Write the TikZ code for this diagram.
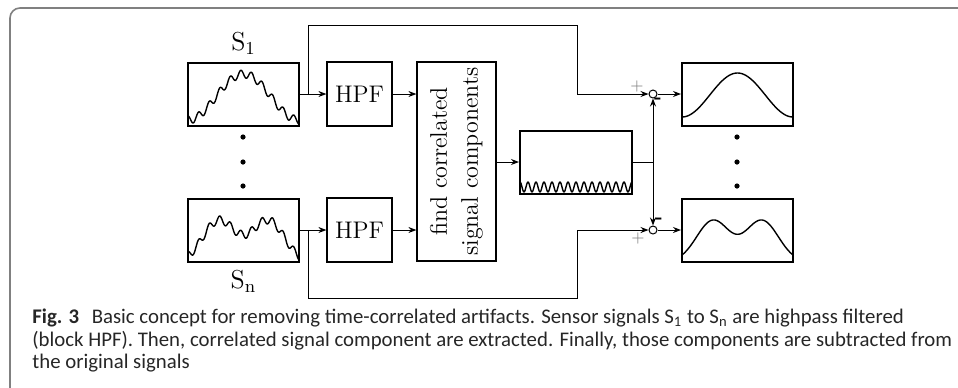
\documentclass[tikz,border=0pt]{standalone}
\usepackage{amsmath,amssymb}
\usepackage{xcolor}
\usepackage{fontspec}
\newfontfamily\capfont{Carlito}
\usepackage{tikz}
\usetikzlibrary{arrows.meta,positioning,calc}

\begin{document}
\begin{tikzpicture}[
  x=0.5pt, y=-0.5pt,
  every node/.style={font=\large},
  sigbox/.style={draw, line width=1pt, minimum width=55.5pt, minimum height=31.5pt, inner sep=0pt},
  block/.style={draw, line width=0.6pt, minimum width=32.5pt, minimum height=32pt, inner sep=0pt},
  sumnode/.style={circle, draw, line width=0.5pt, fill=white, minimum size=4pt, inner sep=0pt},
  wire/.style={line width=0.5pt},
  arr/.style={wire, -{Stealth[length=4pt, width=3pt]}},
  sigline/.style={line width=0.7pt, line join=round},
  plusmark/.style={font=\footnotesize, text=gray, inner sep=0pt},
  minusmark/.style={font=\normalsize\bfseries, inner sep=0pt},
  siglabel/.style={font=\fontsize{13}{15}\selectfont},
  capline/.style={font=\capfont\fontsize{10.4}{12}\selectfont, text=black!85, inner sep=0pt, anchor=base west},
  declare function={
    bump(\u)=0.5*(1-cos(360*\u));
    gs(\u,\m)=exp(-(\u-\m)*(\u-\m)/0.0441);
    dbl(\u)=(gs(\u,0.28)+gs(\u,0.72)-0.169)/0.843;
  },
]
\useasboundingbox (0,0) rectangle (958,387);

%% Frame round figure and caption
\begin{scope}
  \clip (0,0) rectangle (958,387);
  \draw[gray, line width=0.8pt, rounded corners=5pt] (10,8) rectangle (990,420);
\end{scope}

%% Sensor signals, filters and correlation block
\node[sigbox] (s1) at (243.5,94) {};
\node[sigbox] (sn) at (243.5,230) {};
\node[siglabel, above=0pt of s1] (labs1) {S\textsubscript{1}};
\node[siglabel, below=0.5pt of sn] (labsn) {S\textsubscript{n}};
\node[block] (hpf1) at (359.5,94) {HPF};
\node[block] (hpfn) at (359.5,230) {HPF};
\node[draw, line width=0.6pt, minimum width=39.5pt, minimum height=99.5pt] (find) at (456.5,161.5) {};
\node[rotate=90, align=center] (findtxt) at (find) {find correlated\\[1.5pt]signal components};
\node[sigbox, minimum width=56pt] (corr) at (576,162) {};

%% Subtraction and cleaned outputs
\node[sumnode] (sum1) at (653,94) {};
\node[sumnode] (sumn) at (653,230) {};
\node[sigbox] (out1) at (737.5,94) {};
\node[sigbox] (outn) at (737.5,230) {};
\node[plusmark] (plus1) at (637,86) {$+$};
\node[plusmark] (plusn) at (638,238) {$+$};
\node[minusmark] (minus1) at (658,101) {-};
\node[minusmark] (minusn) at (659,221) {-};

%% Dots between the channels
\foreach \cx in {243,737} {
  \foreach \cy in {137,162,186} {
    \fill (\cx,\cy) circle[radius=1.3pt];
  }
}

%% Signal traces
\draw[sigline] plot[domain=0:1, samples=160]
  ({188+111*\x}, {120-46*bump(\x)-4*sin(3780*\x+90)});
\draw[sigline] plot[domain=0:1, samples=160]
  ({188+111*\x}, {256-36*dbl(\x)-4*sin(3780*\x+90)});
\draw[sigline] plot[domain=0:1, samples=200]
  ({520+112*\x}, {187-5*sin(5040*\x+90)});
\draw[sigline] plot[domain=0:1, samples=100]
  ({682+111*\x}, {117-44*bump(\x)});
\draw[sigline] plot[domain=0:1, samples=100]
  ({682+111*\x}, {255-35*dbl(\x)});

%% Connectors
\coordinate (br1) at (308,94);
\coordinate (brn) at (308,230);
\coordinate (top1) at (577,25);
\coordinate (botn) at (577,298);
\coordinate (tap) at (sum1 |- corr.east);
\draw[arr] (s1.east) -- (hpf1.west);
\draw[arr] (sn.east) -- (hpfn.west);
\draw[arr] (hpf1.east) -- (hpf1.east -| find.west);
\draw[arr] (hpfn.east) -- (hpfn.east -| find.west);
\draw[arr] (find.east |- corr.west) -- (corr.west);
\draw[arr] (br1) |- (top1) |- (sum1.west);
\draw[arr] (brn) |- (botn) |- (sumn.west);
\draw[wire] (corr.east) -- (tap);
\draw[arr] (tap) -- (sum1.south);
\draw[arr] (tap) -- (sumn.north);
\draw[arr] (sum1.east) -- (out1.west);
\draw[arr] (sumn.east) -- (outn.west);

%% Caption
\node[capline] (cap1) at (32,323) {\textbf{Fig. 3}\hspace{0.6em}Basic concept for removing time-correlated artifacts. Sensor signals S\textsubscript{1} to S\textsubscript{n} are highpass filtered};
\node[capline] (cap2) at (32,346) {(block HPF). Then, correlated signal component are extracted. Finally, those components are subtracted from};
\node[capline] (cap3) at (32,368) {the original signals};

\end{tikzpicture}
\end{document}
